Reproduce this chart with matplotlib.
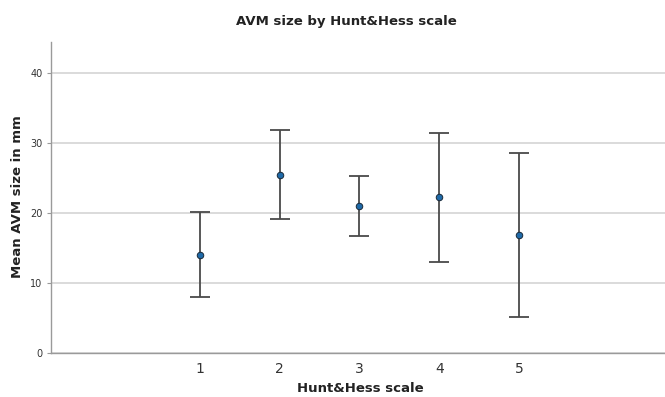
import matplotlib
matplotlib.use("Agg")
import matplotlib.pyplot as plt
import numpy as np

# Hunt&Hess grade, mean AVM size and error bar limits (mm)
grades = [1, 2, 3, 4, 5]
means = [14.1, 25.5, 21.0, 22.3, 16.9]
lower = [8.0, 19.2, 16.7, 13.1, 5.2]
upper = [20.2, 31.9, 25.3, 31.5, 28.6]

plt.rcParams['font.family'] = ['DejaVu Sans']

W, H = 665, 397
fig = plt.figure(figsize=(W / 100, H / 100), dpi=100)
ax = fig.add_axes([0.0762, 0.110, 0.9238, 0.785])

m = np.array(means)
yerr = [m - np.array(lower), np.array(upper) - m]
ax.errorbar(grades, means, yerr=yerr, fmt='none', ecolor='#4a4a4a',
            elinewidth=1.3, capsize=7, capthick=1.3, zorder=3)
ax.scatter(grades, means, s=22, color='#1f6aa8', edgecolors='#1a2a3a',
           linewidths=0.7, zorder=4)

ax.set_xlim(-0.87, 6.83)
ax.set_ylim(0, 44.5)
ax.set_yticks([0, 10, 20, 30, 40])
ax.set_xticks(grades)
ax.yaxis.grid(True, color='#d4d4d4', linewidth=1.2)
ax.set_axisbelow(True)

for s in ['top', 'right']:
    ax.spines[s].set_visible(False)
for s in ['left', 'bottom']:
    ax.spines[s].set_color('#9a9a9a')
    ax.spines[s].set_linewidth(1.0)

ax.tick_params(axis='y', labelsize=7, colors='#9a9a9a', labelcolor='#333333', length=3, pad=3)
ax.tick_params(axis='x', labelsize=10, length=0, labelcolor='#333333', pad=6)

# titles and axis labels placed in figure pixels
lab = dict(fontsize=9.5, fontweight='bold', color='#222222', ha='center', va='center')
fig.text(18 / W, 1 - 197 / H, 'Mean AVM size in mm', rotation=90, **lab)
fig.text(360 / W, 1 - 388 / H, 'Hunt&Hess scale', **lab)
fig.text(346 / W, 1 - 21 / H, 'AVM size by Hunt&Hess scale', **lab)

fig.savefig('out.png', dpi=100)
